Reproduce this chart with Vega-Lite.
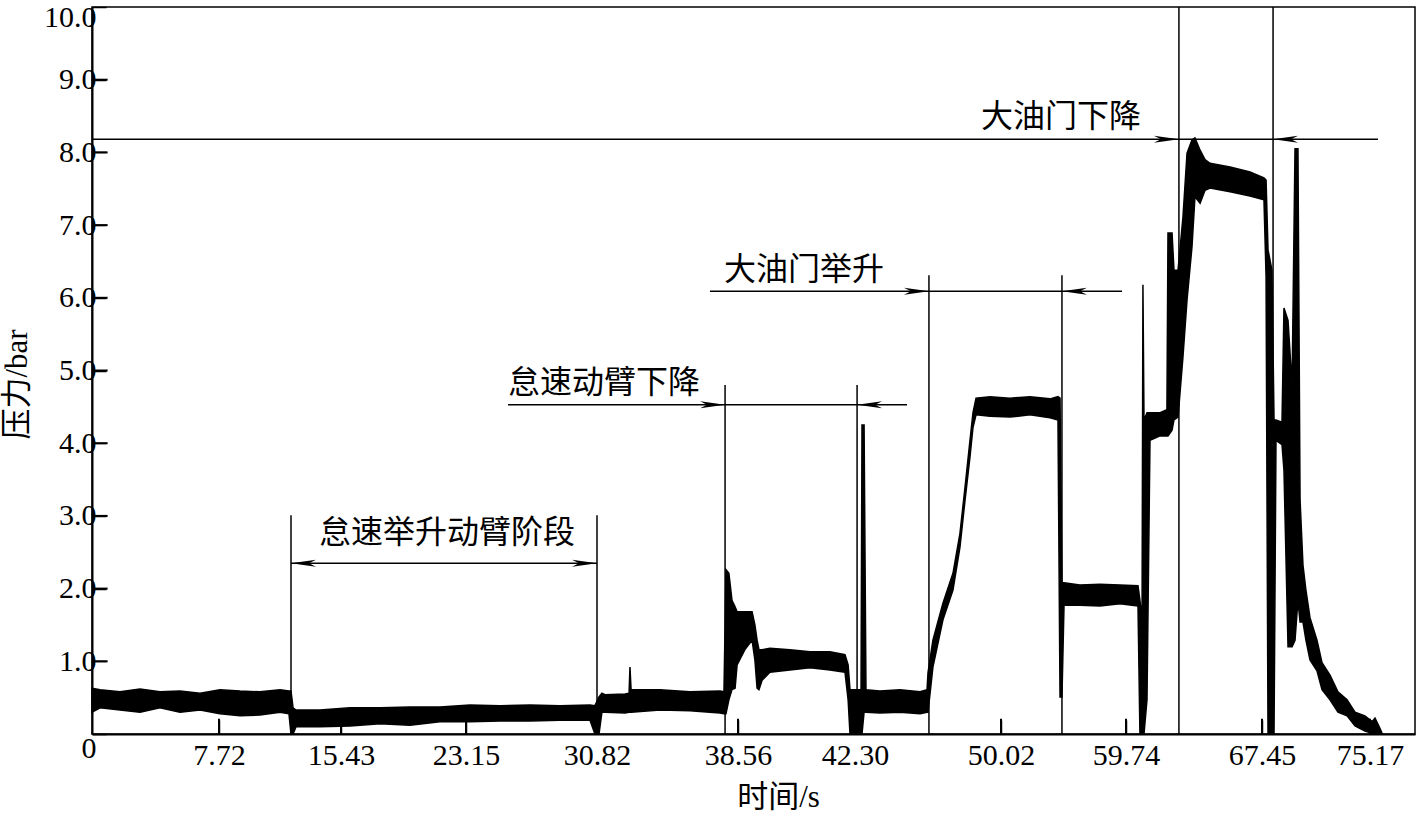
{
  "$schema": "https://vega.github.io/schema/vega-lite/v6.json",
  "width": 1323,
  "height": 727,
  "autosize": {"type": "none"},
  "padding": {"left": 92, "top": 7, "right": 3, "bottom": 79},
  "background": "white",
  "config": {
    "view": {"stroke": "black", "strokeWidth": 1.5},
    "axis": {"grid": false, "domainColor": "black", "domainWidth": 2, "tickColor": "black", "tickWidth": 1.5, "labelColor": "black", "titleColor": "black", "zindex": 1}
  },
  "datasets": {
    "trace": [
      {"t": 0.00, "hi": 0.63, "lo": 0.30},
      {"t": 0.49, "hi": 0.61, "lo": 0.36},
      {"t": 1.70, "hi": 0.58, "lo": 0.33},
      {"t": 2.92, "hi": 0.62, "lo": 0.30},
      {"t": 4.13, "hi": 0.58, "lo": 0.36},
      {"t": 5.35, "hi": 0.59, "lo": 0.30},
      {"t": 6.57, "hi": 0.56, "lo": 0.33},
      {"t": 7.78, "hi": 0.61, "lo": 0.28},
      {"t": 9.05, "hi": 0.59, "lo": 0.25},
      {"t": 10.31, "hi": 0.58, "lo": 0.26},
      {"t": 11.58, "hi": 0.61, "lo": 0.30},
      {"t": 12.14, "hi": 0.59, "lo": 0.28},
      {"t": 12.27, "hi": 0.59, "lo": 0.00},
      {"t": 12.40, "hi": 0.36, "lo": 0.00},
      {"t": 12.59, "hi": 0.33, "lo": 0.10},
      {"t": 14.10, "hi": 0.33, "lo": 0.10},
      {"t": 15.99, "hi": 0.36, "lo": 0.11},
      {"t": 17.84, "hi": 0.36, "lo": 0.14},
      {"t": 19.69, "hi": 0.37, "lo": 0.12},
      {"t": 21.54, "hi": 0.37, "lo": 0.17},
      {"t": 23.38, "hi": 0.40, "lo": 0.17},
      {"t": 25.14, "hi": 0.39, "lo": 0.18},
      {"t": 26.90, "hi": 0.40, "lo": 0.18},
      {"t": 28.65, "hi": 0.39, "lo": 0.19},
      {"t": 30.41, "hi": 0.40, "lo": 0.19},
      {"t": 30.70, "hi": 0.39, "lo": 0.00},
      {"t": 30.93, "hi": 0.51, "lo": 0.00},
      {"t": 31.09, "hi": 0.56, "lo": 0.30},
      {"t": 31.26, "hi": 0.54, "lo": 0.30},
      {"t": 32.36, "hi": 0.55, "lo": 0.29},
      {"t": 32.58, "hi": 0.56, "lo": 0.30},
      {"t": 32.63, "hi": 0.92, "lo": 0.30},
      {"t": 32.69, "hi": 0.61, "lo": 0.30},
      {"t": 34.28, "hi": 0.61, "lo": 0.33},
      {"t": 35.92, "hi": 0.58, "lo": 0.32},
      {"t": 37.57, "hi": 0.59, "lo": 0.29},
      {"t": 37.79, "hi": 0.58, "lo": 0.28},
      {"t": 37.90, "hi": 2.26, "lo": 0.28},
      {"t": 38.06, "hi": 2.21, "lo": 0.47},
      {"t": 38.23, "hi": 1.84, "lo": 0.61},
      {"t": 38.40, "hi": 1.75, "lo": 0.63},
      {"t": 38.51, "hi": 1.68, "lo": 0.95},
      {"t": 38.78, "hi": 1.68, "lo": 1.16},
      {"t": 39.01, "hi": 1.68, "lo": 1.29},
      {"t": 39.10, "hi": 1.50, "lo": 1.02},
      {"t": 39.17, "hi": 1.29, "lo": 0.63},
      {"t": 39.23, "hi": 1.16, "lo": 0.61},
      {"t": 39.33, "hi": 1.16, "lo": 0.74},
      {"t": 39.58, "hi": 1.18, "lo": 0.85},
      {"t": 40.22, "hi": 1.16, "lo": 0.88},
      {"t": 40.86, "hi": 1.13, "lo": 0.91},
      {"t": 41.50, "hi": 1.13, "lo": 0.88},
      {"t": 41.98, "hi": 1.09, "lo": 0.85},
      {"t": 42.08, "hi": 0.95, "lo": 0.47},
      {"t": 42.14, "hi": 0.61, "lo": 0.00},
      {"t": 42.62, "hi": 0.61, "lo": 0.00},
      {"t": 42.67, "hi": 4.25, "lo": 0.00},
      {"t": 42.78, "hi": 4.25, "lo": 0.30},
      {"t": 42.88, "hi": 0.61, "lo": 0.30},
      {"t": 43.62, "hi": 0.59, "lo": 0.29},
      {"t": 44.68, "hi": 0.61, "lo": 0.30},
      {"t": 45.74, "hi": 0.58, "lo": 0.28},
      {"t": 46.11, "hi": 0.61, "lo": 0.30},
      {"t": 46.16, "hi": 0.84, "lo": 0.30},
      {"t": 46.42, "hi": 1.29, "lo": 0.92},
      {"t": 46.95, "hi": 1.80, "lo": 1.57},
      {"t": 47.48, "hi": 2.21, "lo": 1.98},
      {"t": 47.85, "hi": 2.76, "lo": 2.57},
      {"t": 48.12, "hi": 3.40, "lo": 3.22},
      {"t": 48.38, "hi": 4.04, "lo": 3.81},
      {"t": 48.54, "hi": 4.42, "lo": 4.22},
      {"t": 48.70, "hi": 4.62, "lo": 4.39},
      {"t": 49.44, "hi": 4.64, "lo": 4.37},
      {"t": 50.72, "hi": 4.62, "lo": 4.36},
      {"t": 52.27, "hi": 4.64, "lo": 4.39},
      {"t": 53.83, "hi": 4.61, "lo": 4.35},
      {"t": 54.45, "hi": 4.64, "lo": 4.32},
      {"t": 54.61, "hi": 4.62, "lo": 0.51},
      {"t": 54.76, "hi": 2.08, "lo": 0.51},
      {"t": 54.92, "hi": 2.08, "lo": 1.77},
      {"t": 56.16, "hi": 2.05, "lo": 1.77},
      {"t": 57.72, "hi": 2.06, "lo": 1.76},
      {"t": 59.27, "hi": 2.05, "lo": 1.79},
      {"t": 60.42, "hi": 2.04, "lo": 1.76},
      {"t": 60.53, "hi": 1.84, "lo": 0.00},
      {"t": 60.65, "hi": 1.57, "lo": 0.00},
      {"t": 60.70, "hi": 6.18, "lo": 0.00},
      {"t": 60.76, "hi": 4.32, "lo": 0.00},
      {"t": 60.93, "hi": 4.42, "lo": 0.47},
      {"t": 61.10, "hi": 4.42, "lo": 4.04},
      {"t": 61.67, "hi": 4.42, "lo": 4.10},
      {"t": 62.06, "hi": 4.46, "lo": 4.10},
      {"t": 62.12, "hi": 6.89, "lo": 4.10},
      {"t": 62.35, "hi": 6.89, "lo": 4.18},
      {"t": 62.46, "hi": 6.38, "lo": 4.32},
      {"t": 62.69, "hi": 6.38, "lo": 4.36},
      {"t": 62.97, "hi": 7.11, "lo": 5.19},
      {"t": 63.20, "hi": 7.99, "lo": 5.97},
      {"t": 63.48, "hi": 8.17, "lo": 6.70},
      {"t": 63.65, "hi": 8.20, "lo": 7.39},
      {"t": 63.94, "hi": 8.03, "lo": 7.30},
      {"t": 64.22, "hi": 7.90, "lo": 7.48},
      {"t": 64.50, "hi": 7.85, "lo": 7.51},
      {"t": 65.64, "hi": 7.80, "lo": 7.46},
      {"t": 66.77, "hi": 7.73, "lo": 7.40},
      {"t": 67.59, "hi": 7.65, "lo": 7.35},
      {"t": 67.74, "hi": 7.62, "lo": 6.30},
      {"t": 67.88, "hi": 6.66, "lo": 0.00},
      {"t": 68.16, "hi": 6.38, "lo": 0.00},
      {"t": 68.31, "hi": 4.32, "lo": 0.00},
      {"t": 68.45, "hi": 4.32, "lo": 4.04},
      {"t": 68.88, "hi": 4.29, "lo": 3.98},
      {"t": 69.02, "hi": 5.86, "lo": 3.63},
      {"t": 69.31, "hi": 5.69, "lo": 1.20},
      {"t": 69.60, "hi": 4.79, "lo": 1.20},
      {"t": 69.81, "hi": 8.05, "lo": 1.29},
      {"t": 70.02, "hi": 8.05, "lo": 1.84},
      {"t": 70.17, "hi": 3.22, "lo": 1.54},
      {"t": 70.38, "hi": 2.32, "lo": 1.54},
      {"t": 70.59, "hi": 1.98, "lo": 1.29},
      {"t": 70.88, "hi": 1.60, "lo": 1.02},
      {"t": 71.38, "hi": 1.29, "lo": 0.87},
      {"t": 71.74, "hi": 0.98, "lo": 0.61},
      {"t": 72.31, "hi": 0.81, "lo": 0.47},
      {"t": 72.88, "hi": 0.58, "lo": 0.30},
      {"t": 73.53, "hi": 0.47, "lo": 0.25},
      {"t": 74.10, "hi": 0.30, "lo": 0.11},
      {"t": 74.81, "hi": 0.25, "lo": 0.04},
      {"t": 75.31, "hi": 0.17, "lo": 0.01},
      {"t": 75.53, "hi": 0.22, "lo": 0.00},
      {"t": 75.88, "hi": 0.08, "lo": 0.00},
      {"t": 76.03, "hi": 0.01, "lo": 0.00}
    ],
    "vlines": [
      {"t": 12.27, "top": 3.01},
      {"t": 30.82, "top": 3.01},
      {"t": 37.85, "top": 4.80},
      {"t": 42.41, "top": 4.80},
      {"t": 46.21, "top": 6.31},
      {"t": 54.76, "top": 6.31},
      {"t": 62.74, "top": 10},
      {"t": 68.24, "top": 10}
    ],
    "hlines": [
      {"t1": 12.27, "t2": 30.82, "v": 2.35},
      {"t1": 25.61, "t2": 45.05, "v": 4.53},
      {"t1": 37.02, "t2": 59.43, "v": 6.09},
      {"t1": 0, "t2": 75.74, "v": 8.18}
    ],
    "arrows": [
      {"t": 12.27, "v": 2.35, "dir": "left"},
      {"t": 30.82, "v": 2.35, "dir": "right"},
      {"t": 37.85, "v": 4.53, "dir": "right"},
      {"t": 42.41, "v": 4.53, "dir": "left"},
      {"t": 46.21, "v": 6.09, "dir": "right"},
      {"t": 54.76, "v": 6.09, "dir": "left"},
      {"t": 62.74, "v": 8.18, "dir": "right"},
      {"t": 68.24, "v": 8.18, "dir": "left"}
    ],
    "labels": [
      {"t": 21.98, "v": 2.76, "text": "怠速举升动臂阶段"},
      {"t": 31.20, "v": 4.83, "text": "怠速动臂下降"},
      {"t": 40.67, "v": 6.38, "text": "大油门举升"},
      {"t": 54.69, "v": 8.49, "text": "大油门下降"}
    ],
    "xticks": [
      {"t": 7.72}, {"t": 15.43}, {"t": 23.15}, {"t": 30.82}, {"t": 38.56},
      {"t": 42.30}, {"t": 50.02}, {"t": 59.74}, {"t": 67.45}, {"t": 75.17}
    ],
    "yticks": [
      {"v": 1}, {"v": 2}, {"v": 3}, {"v": 4}, {"v": 5}, {"v": 6}, {"v": 7}, {"v": 8}, {"v": 9}
    ]
  },
  "layer": [
    {
      "data": {"name": "trace"},
      "mark": {"type": "area", "color": "black", "stroke": "black", "strokeWidth": 1.5, "opacity": 1},
      "encoding": {
        "x": {
          "field": "t", "type": "quantitative",
          "scale": {"domain": [0, 7.72, 15.43, 23.15, 30.82, 38.56, 42.30, 50.02, 59.74, 67.45, 75.17, 78.39], "range": [0, 127, 249, 374, 505, 646, 763, 909, 1034, 1170, 1278, 1323], "nice": false, "zero": false},
          "axis": {
            "values": [7.72, 15.43, 23.15, 30.82, 38.56, 42.30, 50.02, 59.74, 67.45, 75.17],
            "format": ".2f",
            "ticks": true,
            "tickSize": -14,
            "labelPadding": 20,
            "labelFont": "Liberation Serif",
            "labelFontSize": 30,
            "title": "时间/s",
            "titleFont": "Liberation Serif, Noto Sans CJK SC",
            "titleFontSize": 31,
            "titleFontWeight": "normal",
            "titleX": 686,
            "titleY": 63,
            "titleBaseline": "middle",
            "titleAlign": "center"
          }
        },
        "y": {
          "field": "hi", "type": "quantitative",
          "scale": {"domain": [0, 10], "nice": false, "zero": true},
          "axis": {
            "values": [0, 1, 2, 3, 4, 5, 6, 7, 8, 9, 10],
            "labelExpr": "datum.value == 0 ? '0' : format(datum.value, '.1f')",
            "ticks": true,
            "tickSize": -14,
            "labelPadding": 10,
            "labelOffset": {"condition": [{"test": "datum.value == 0", "value": 14}, {"test": "datum.value == 10", "value": 10}], "value": 0},
            "labelFont": "Liberation Serif",
            "labelFontSize": 30,
            "title": "压力/bar",
            "titleFont": "Liberation Serif, Noto Sans CJK SC",
            "titleFontSize": 31,
            "titleFontWeight": "normal",
            "titleX": -75,
            "titleY": 377,
            "titleBaseline": "middle",
            "titleAlign": "center"
          }
        },
        "y2": {"field": "lo"}
      }
    },
    {
      "data": {"name": "xticks"},
      "mark": {"type": "rule", "color": "black", "strokeWidth": 2},
      "encoding": {
        "x": {"field": "t", "type": "quantitative"},
        "y": {"datum": 0},
        "y2": {"datum": 0.21}
      }
    },
    {
      "data": {"name": "yticks"},
      "mark": {"type": "rule", "color": "black", "strokeWidth": 2},
      "encoding": {
        "y": {"field": "v", "type": "quantitative"},
        "x": {"datum": 0},
        "x2": {"datum": 0.95}
      }
    },
    {
      "data": {"name": "vlines"},
      "mark": {"type": "rule", "color": "black", "strokeWidth": 1.5},
      "encoding": {
        "x": {"field": "t", "type": "quantitative"},
        "y": {"field": "top", "type": "quantitative"},
        "y2": {"datum": 0}
      }
    },
    {
      "data": {"name": "hlines"},
      "mark": {"type": "rule", "color": "black", "strokeWidth": 1.5},
      "encoding": {
        "x": {"field": "t1", "type": "quantitative"},
        "x2": {"field": "t2"},
        "y": {"field": "v", "type": "quantitative"}
      }
    },
    {
      "data": {"name": "arrows"},
      "transform": [{"filter": "datum.dir == 'right'"}],
      "mark": {"type": "point", "shape": "M0,0L-1,-0.14L-0.72,0L-1,0.14Z", "filled": true, "color": "black", "size": 2500, "opacity": 1},
      "encoding": {
        "x": {"field": "t", "type": "quantitative"},
        "y": {"field": "v", "type": "quantitative"}
      }
    },
    {
      "data": {"name": "arrows"},
      "transform": [{"filter": "datum.dir == 'left'"}],
      "mark": {"type": "point", "shape": "M0,0L1,-0.14L0.72,0L1,0.14Z", "filled": true, "color": "black", "size": 2500, "opacity": 1},
      "encoding": {
        "x": {"field": "t", "type": "quantitative"},
        "y": {"field": "v", "type": "quantitative"}
      }
    },
    {
      "data": {"name": "labels"},
      "mark": {"type": "text", "font": "Noto Sans CJK SC", "fontSize": 32, "color": "black", "align": "center", "baseline": "middle"},
      "encoding": {
        "x": {"field": "t", "type": "quantitative"},
        "y": {"field": "v", "type": "quantitative"},
        "text": {"field": "text"}
      }
    }
  ]
}
